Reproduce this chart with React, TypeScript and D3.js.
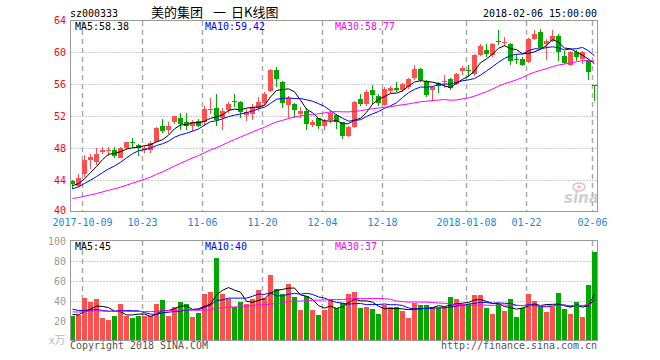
import React from 'react';
import * as d3 from 'd3';

// ---------- data ----------
const dates = [
  '2017-09-28','2017-09-29',
  '2017-10-09','2017-10-10','2017-10-11','2017-10-12','2017-10-13','2017-10-16','2017-10-17','2017-10-18','2017-10-19','2017-10-20',
  '2017-10-23','2017-10-24','2017-10-25','2017-10-26','2017-10-27','2017-10-30','2017-10-31',
  '2017-11-01','2017-11-02','2017-11-03','2017-11-06','2017-11-07','2017-11-08','2017-11-09','2017-11-10',
  '2017-11-13','2017-11-14','2017-11-15','2017-11-16','2017-11-17','2017-11-20','2017-11-21','2017-11-22','2017-11-23','2017-11-24',
  '2017-11-27','2017-11-28','2017-11-29','2017-11-30',
  '2017-12-01','2017-12-04','2017-12-05','2017-12-06','2017-12-07','2017-12-08','2017-12-11','2017-12-12','2017-12-13','2017-12-14','2017-12-15',
  '2017-12-18','2017-12-19','2017-12-20','2017-12-21','2017-12-22','2017-12-25','2017-12-26','2017-12-27','2017-12-28','2017-12-29',
  '2018-01-02','2018-01-03','2018-01-04','2018-01-05','2018-01-08','2018-01-09','2018-01-10','2018-01-11','2018-01-12',
  '2018-01-15','2018-01-16','2018-01-17','2018-01-18','2018-01-19','2018-01-22','2018-01-23','2018-01-24','2018-01-25','2018-01-26',
  '2018-01-29','2018-01-30','2018-01-31','2018-02-01','2018-02-02','2018-02-05','2018-02-06',
];

const opens = [
  43.9,43.3,44.8,46.5,46.2,47.5,47.6,47.8,46.75,48.0,
  48.8,48.4,47.7,47.8,48.75,50.7,50.2,51.3,51.7,51.2,
  50.7,51.4,51.2,52.8,53.0,51.7,52.8,53.9,53.8,52.1,
  52.2,53.0,53.6,55.1,57.7,56.2,53.4,53.5,52.3,52.6,
  50.9,51.7,50.8,51.5,52.1,51.2,49.5,50.6,54.1,53.5,
  55.2,54.5,53.4,55.1,55.5,55.2,55.6,56.7,57.9,56.4,
  55.2,56.1,56.25,56.6,56.0,57.65,57.8,57.2,59.6,60.2,
  59.6,61.4,61.1,61.0,59.1,59.1,58.7,61.6,62.5,61.0,
  61.4,62.0,59.5,58.4,60.0,59.1,59.0,55.9,
];
const highs = [
  44.0,44.7,47.1,47.2,48.0,48.1,48.1,48.1,48.1,48.8,
  49.3,48.5,48.2,48.9,50.6,51.6,51.3,52.0,52.4,52.4,
  51.5,51.6,53.3,54.2,54.8,53.0,53.8,54.7,53.9,52.9,
  53.5,54.4,55.0,57.9,58.1,56.4,54.5,53.6,53.1,53.0,
  51.5,51.8,51.6,52.6,52.3,51.3,50.8,53.9,54.7,55.3,
  55.9,54.7,55.6,55.7,56.2,56.1,56.7,58.4,58.0,56.5,
  55.8,56.3,57.1,56.7,57.4,58.3,58.4,59.8,61.0,61.0,
  61.1,62.75,61.9,61.1,59.8,59.4,61.8,62.75,62.9,61.6,
  62.75,62.2,60.1,60.1,60.2,60.1,59.1,55.9,
];
const lows = [
  42.9,43.1,44.4,45.4,45.9,47.2,47.0,46.8,46.7,47.9,
  48.0,47.0,47.4,47.4,48.7,49.9,49.8,51.0,50.3,50.3,
  50.1,50.6,50.8,52.2,50.8,50.3,52.4,53.1,51.8,51.4,
  51.5,52.6,53.4,55.0,55.6,53.0,51.8,51.8,51.8,50.2,
  50.6,50.4,50.3,51.1,50.4,49.1,49.4,50.5,53.2,53.3,
  53.5,53.3,53.2,54.9,55.0,55.0,55.4,56.5,56.2,54.4,
  53.9,54.9,55.5,55.3,55.9,57.15,56.9,57.0,59.5,59.4,
  59.4,60.9,60.7,58.4,58.5,58.2,58.6,61.5,60.4,59.0,
  61.3,58.9,58.5,58.3,58.9,58.5,56.5,53.9,
];
const closes = [
  43.5,44.3,46.5,46.9,47.2,47.8,47.7,47.0,48.0,48.75,
  48.7,48.0,48.0,48.6,50.5,50.1,50.8,52.0,51.0,50.7,
  51.3,50.8,52.9,52.9,51.5,52.6,53.5,53.8,52.5,52.5,
  53.1,53.8,54.7,57.8,56.6,53.6,54.3,52.8,52.6,51.0,
  51.3,50.7,51.4,52.4,51.3,49.45,50.6,53.7,53.5,55.0,
  54.6,53.6,55.4,55.5,55.2,56.0,56.6,57.9,56.45,54.6,
  55.6,55.7,56.4,55.5,57.3,58.0,57.7,59.6,60.7,59.7,
  61.0,61.3,61.25,58.9,59.0,58.4,61.6,62.2,60.5,61.4,
  62.0,60.0,58.6,60.0,59.4,60.0,57.5,55.75,
];
// volume, in 万手 (x万)
const volumes = [
  24.6,25.6,42.3,38.6,41.3,22.3,20.3,24.3,36.3,24.6,
  22.3,24.3,24.6,24.6,36.3,40.3,24.3,33.3,38.3,36.3,
  23.3,27.3,46.3,48.6,82.3,46.3,41.3,33.3,38.6,36.6,
  41.3,50.3,42.3,65.3,51.3,46.3,56.3,43.3,30.6,45.0,
  30.3,25.3,30.6,41.0,33.0,38.0,46.3,48.3,32.3,33.3,
  31.3,26.3,35.6,33.3,33.3,29.6,22.3,38.0,35.3,35.3,
  33.3,32.3,33.3,43.3,41.3,36.3,36.3,45.3,45.3,32.3,
  26.3,36.3,29.3,41.3,23.3,32.3,46.3,39.6,33.3,28.3,
  33.3,47.3,31.3,26.3,38.3,23.3,55.3,88.3,
];
// estimated sessions before the visible window (needed for the moving averages)
const priorCloses = [
  41.2,41.5,41.9,42.1,41.8,41.6,41.4,41.7,41.5,41.2,
  40.8,40.5,40.3,40.6,40.2,40.4,40.7,40.9,40.6,41.1,
  41.9,42.3,42.6,42.8,42.9,43.1,43.4,43.2,43.3,
];
const priorVolumes = [
  30.1,27.5,29.8,26.4,31.2,28.3,27.0,29.5,28.1,28.0,
  24.5,27.2,25.1,26.8,23.9,25.6,27.4,26.3,25.0,27.3,
  38.2,41.5,35.0,37.8,30.5,27.1,25.8,26.9,25.6,
];

const priceTicks = [64, 60, 56, 52, 48, 44, 40];
const volumeTicks = [100, 80, 60, 40, 20];
const dateTicks = ['2017-10-09','2017-10-23','2017-11-06','2017-11-20','2017-12-04','2017-12-18','2018-01-08','2018-01-22','2018-02-06'];
const dateTickLabels = ['2017-10-09','10-23','11-06','11-20','12-04','12-18','2018-01-08','01-22','02-06'];
const maPeriods = [5, 10, 30];
const maColors = ['#000000', '#0000ff', '#ff00ff'];
const priceLegend = ['MA5:58.38', 'MA10:59.42', 'MA30:58.77'];
const volumeLegend = ['MA5:45', 'MA10:40', 'MA30:37'];
const symbol = 'sz000333';
const titleParts = ['美的集团', '一', '日K线图'];
const timestamp = '2018-02-06 15:00:00';

// ---------- helpers ----------
function movingAverage(series: number[], prior: number[], period: number) {
  const all = prior.concat(series);
  return series.map((_, i) => {
    const end = prior.length + i;
    return d3.mean(all.slice(end - period + 1, end + 1)) as number;
  });
}

const MONO = '"DejaVu Sans Mono", "Liberation Mono", monospace';
const UP = '#ff5050';
const DOWN = '#00a800';

function Mono(props: { x: number; y: number; text: string; fill: string; anchor?: string; size?: number }) {
  const { x, y, text, fill, anchor = 'start', size = 11 } = props;
  return (
    <text x={x} y={y} fill={fill} fontFamily={MONO} fontSize={size} textAnchor={anchor as any}
      textLength={text.length * 6} lengthAdjust="spacingAndGlyphs">{text}</text>
  );
}

export default function App() {
  const n = closes.length;
  const x = d3.scaleLinear().domain([0, n]).range([70, 70 + 6 * n]);
  const yP = d3.scaleLinear().domain([40, 64]).range([212, 20]);
  const yV = d3.scaleLinear().domain([0, 100]).range([340.5, 240.5]);
  const step = x(1) - x(0);
  const bw = step - 1;
  const cx = (i: number) => x(i) + bw / 2;

  const priceMAs = maPeriods.map(p => movingAverage(closes, priorCloses, p));
  const volMAs = maPeriods.map(p => movingAverage(volumes, priorVolumes, p));
  const lineP = d3.line<number>().x((_, i) => cx(i)).y(d => yP(d));
  const lineV = d3.line<number>().x((_, i) => cx(i)).y(d => yV(d));

  const plotL = 70.5, plotR = 597.5;
  const tickIdx = dateTicks.map(d => dates.indexOf(d));
  const priceLabelY = (v: number) => Math.min(yP(v) + 4, 213.5);

  return (
    <svg width={660} height={360} style={{ position: 'absolute', left: 0, top: 0, background: '#fff' }}>
      <rect x={0} y={0} width={660} height={360} fill="#fff" />
      {/* header */}
      <Mono x={70} y={17} text={symbol} fill="#000" />
      <text x={151} y={17} fontFamily='"Noto Sans CJK SC"' fontSize={13} fill="#000">{titleParts[0]}</text>
      <text x={213} y={17} fontFamily='"Noto Sans CJK SC"' fontSize={13} fill="#000">{titleParts[1]}</text>
      <text x={231} y={17} fontFamily='"Noto Sans CJK SC"' fontSize={13} fill="#000">{titleParts[2]}</text>
      <Mono x={597} y={17} text={timestamp} fill="#000" anchor="end" />

      {/* price grid */}
      {priceTicks.filter(v => v !== 64 && v !== 40).map(v => (
        <line key={'pg' + v} x1={plotL} x2={plotR} y1={Math.round(yP(v)) + 0.5} y2={Math.round(yP(v)) + 0.5}
          stroke="#999" strokeDasharray="1,2" />
      ))}
      {tickIdx.map((i, k) => (
        <line key={'pv' + k} x1={x(i) + 0.5} x2={x(i) + 0.5} y1={21} y2={211} stroke="#aaa" strokeWidth={1.5} strokeDasharray="5,4" />
      ))}
      {/* volume grid */}
      {volumeTicks.filter(v => v !== 100).map(v => (
        <line key={'vg' + v} x1={plotL} x2={plotR} y1={Math.round(yV(v)) + 0.5} y2={Math.round(yV(v)) + 0.5}
          stroke="#999" strokeDasharray="1,2" />
      ))}
      {tickIdx.map((i, k) => (
        <line key={'vv' + k} x1={x(i) + 0.5} x2={x(i) + 0.5} y1={241} y2={340} stroke="#aaa" strokeWidth={1.5} strokeDasharray="5,4" />
      ))}

      {/* sina watermark */}
      <g opacity={0.8}>
        <ellipse cx={579} cy={187} rx={6} ry={4} fill="none" stroke="#e7b0b0" strokeWidth={1.5} />
        <circle cx={579} cy={187} r={1.8} fill="#e7b0b0" />
        <text x={564} y={203} fontFamily="DejaVu Sans" fontSize={15} fontWeight="bold" fontStyle="italic" fill="#c4c4c4">sina</text>
      </g>

      {/* candles */}
      {closes.map((c, i) => {
        const o = opens[i];
        const col = c >= o ? UP : DOWN;
        const top = yP(Math.max(o, c));
        const h = Math.max(1, Math.abs(yP(o) - yP(c)));
        return (
          <g key={'c' + i} shapeRendering="crispEdges">
            <line x1={Math.floor(cx(i)) + 0.5} x2={Math.floor(cx(i)) + 0.5} y1={yP(highs[i])} y2={yP(lows[i])} stroke={col} />
            <rect x={x(i)} y={top} width={bw} height={h} fill={col} />
          </g>
        );
      })}
      {priceMAs.map((ma, k) => (
        <path key={'pm' + k} d={lineP(ma) || ''} fill="none" stroke={maColors[k]} strokeWidth={1} />
      ))}

      {/* volume bars */}
      {volumes.map((v, i) => (
        <rect key={'v' + i} x={x(i)} y={yV(v)} width={bw} height={yV(0) - yV(v)}
          fill={closes[i] >= opens[i] ? UP : DOWN} shapeRendering="crispEdges" />
      ))}
      {volMAs.map((ma, k) => (
        <path key={'vm' + k} d={lineV(ma) || ''} fill="none" stroke={maColors[k]} strokeWidth={1} />
      ))}

      {/* frames */}
      <rect x={plotL} y={20.5} width={plotR - plotL} height={191} fill="none" stroke="#999" />
      <rect x={plotL} y={240.5} width={plotR - plotL} height={100} fill="none" stroke="#999" />

      {/* axis labels */}
      {priceTicks.map(v => (
        <Mono key={'pl' + v} x={66} y={priceLabelY(v)} text={String(v)} fill="#ff0000" anchor="end" />
      ))}
      {volumeTicks.map(v => (
        <Mono key={'vl' + v} x={66} y={yV(v) + 4} text={String(v)} fill="#999" anchor="end" />
      ))}
      {tickIdx.map((i, k) => (
        <Mono key={'dl' + k} x={x(i) + 0.5} y={226} text={dateTickLabels[k]} fill="#1a88d8" anchor="middle" />
      ))}

      {/* legends */}
      {priceLegend.map((t, k) => (
        <Mono key={'lg' + k} x={75 + 130 * k} y={30} text={t} fill={maColors[k]} />
      ))}
      {volumeLegend.map((t, k) => (
        <Mono key={'lv' + k} x={75 + 130 * k} y={250} text={t} fill={maColors[k]} />
      ))}

      {/* footer */}
      <text x={49} y={344} fontFamily='"Noto Sans CJK SC"' fontSize={11} fill="#bbb">x万</text>
      <Mono x={70} y={349} text="Copyright 2018 SINA.COM" fill="#555" />
      <Mono x={597} y={349} text="http://finance.sina.com.cn" fill="#555" anchor="end" />
    </svg>
  );
}
